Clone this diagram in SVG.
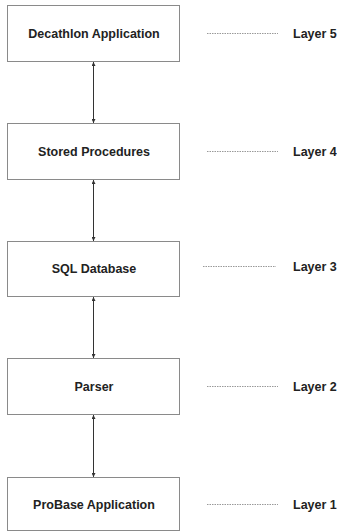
<svg xmlns="http://www.w3.org/2000/svg" width="337" height="532" viewBox="0 0 337 532">
<style>
.box{fill:#fff;stroke:#8a8a8a;stroke-width:1}
.lbl{font-family:"Liberation Sans",Arial,sans-serif;font-weight:bold;font-size:12.5px;fill:#222;text-anchor:middle;dominant-baseline:central}
.lay{font-family:"Liberation Sans",Arial,sans-serif;font-weight:bold;font-size:12.5px;fill:#222;dominant-baseline:central}
.dot{stroke:#999;stroke-width:1;stroke-dasharray:1.5,1}
.con{stroke:#333;stroke-width:1;fill:none;marker-start:url(#ah);marker-end:url(#ah)}
</style>
<defs>
<marker id="ah" viewBox="0 0 10 10" refX="10" refY="5" markerWidth="4" markerHeight="4" orient="auto-start-reverse" markerUnits="userSpaceOnUse"><path d="M0,0L10,5L0,10z" fill="#333"/></marker>
</defs>
<rect width="337" height="532" fill="#fff"/>
<g id="connectors">
<line class="con" x1="93.5" y1="62" x2="93.5" y2="123"/>
<line class="con" x1="93.5" y1="180" x2="93.5" y2="241"/>
<line class="con" x1="93.5" y1="297" x2="93.5" y2="358"/>
<line class="con" x1="93.5" y1="415" x2="93.5" y2="477"/>
</g>
<g id="n5"><rect class="box" x="7.5" y="5.5" width="172" height="56"/><text class="lbl" x="94" y="33.5">Decathlon Application</text></g>
<g id="n4"><rect class="box" x="7.5" y="123.5" width="172" height="56"/><text class="lbl" x="94" y="151.5">Stored Procedures</text></g>
<g id="n3"><rect class="box" x="7.5" y="241.5" width="172" height="55"/><text class="lbl" x="94" y="268.5">SQL Database</text></g>
<g id="n2"><rect class="box" x="7.5" y="358.5" width="172" height="56"/><text class="lbl" x="94" y="386.5">Parser</text></g>
<g id="n1"><rect class="box" x="7.5" y="477.5" width="172" height="53"/><text class="lbl" x="94" y="504.5">ProBase Application</text></g>
<g id="layers">
<line class="dot" x1="207" y1="33.5" x2="278" y2="33.5"/><text class="lay" x="293" y="33.5">Layer 5</text>
<line class="dot" x1="207" y1="151.5" x2="278" y2="151.5"/><text class="lay" x="293" y="151.5">Layer 4</text>
<line class="dot" x1="203" y1="266.5" x2="276" y2="266.5"/><text class="lay" x="293" y="266.5">Layer 3</text>
<line class="dot" x1="207" y1="386.5" x2="278" y2="386.5"/><text class="lay" x="293" y="386.5">Layer 2</text>
<line class="dot" x1="207" y1="504.5" x2="278" y2="504.5"/><text class="lay" x="293" y="504.5">Layer 1</text>
</g>
</svg>
